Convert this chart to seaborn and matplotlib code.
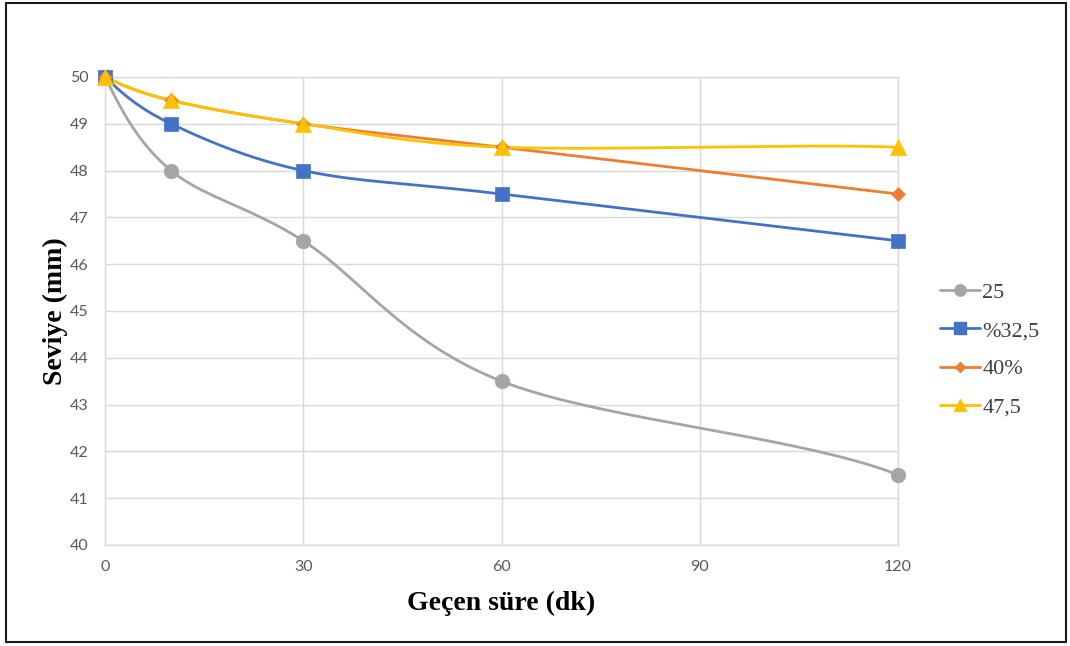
import numpy as np
import pandas as pd
import matplotlib
matplotlib.use("Agg")
import matplotlib.pyplot as plt
import seaborn as sns
from matplotlib.lines import Line2D
from matplotlib.patches import Rectangle

# ---- data ----
time_min = [0, 10, 30, 60, 120]
s25 = [50, 48, 46.5, 43.5, 41.5]
s325 = [50, 49, 48, 47.5, 46.5]
s40 = [50, 49.5, 49, 48.5, 47.5]
s475 = [50, 49.5, 49, 48.5, 48.5]
series_names = ["25", "%32,5", "40%", "47,5"]
series_values = [s25, s325, s40, s475]
x_ticks = [0, 30, 60, 90, 120]
y_ticks = list(range(40, 51))

colors = ["#A5A5A5", "#4472C4", "#ED7D31", "#FFC000"]
markers = ["o", "s", "D", "^"]
msizes = [10.5, 10.5, 7, 11.5]


def smooth(xs, ys, n=40):
    """Excel-like bezier smoothing through the data points."""
    P = np.column_stack([xs, ys]).astype(float)
    m = len(P)
    segs = []
    for i in range(m - 1):
        p1, p2 = P[i], P[i + 1]
        p0 = P[i - 1] if i > 0 else None
        p3 = P[i + 2] if i + 2 < m else None
        c1 = p1 + (p2 - p0) / 6.0 if p0 is not None else None
        c2 = p2 - (p3 - p1) / 6.0 if p3 is not None else None
        if c1 is None and c2 is None:
            c1 = p1 + (p2 - p1) / 3.0
            c2 = p2 - (p2 - p1) / 3.0
        elif c1 is None:
            c1 = (p1 + c2) / 2.0
        elif c2 is None:
            c2 = p2 - (c1 - p1)
        t = np.linspace(0, 1, n)[:, None]
        b = ((1 - t) ** 3) * p1 + 3 * ((1 - t) ** 2) * t * c1 + 3 * (1 - t) * t ** 2 * c2 + t ** 3 * p2
        segs.append(b if i == 0 else b[1:])
    out = np.vstack(segs)
    return out[:, 0], out[:, 1]


sns.set_style("white")
fig = plt.figure(figsize=(10.7, 6.46), dpi=100)
ax = fig.add_axes([105 / 1070, 1 - 545 / 646, (898 - 105) / 1070, (545 - 77) / 646])

rows = []
for name, vals in zip(series_names, series_values):
    for t, v in zip(time_min, vals):
        rows.append({"t": t, "v": v, "s": name})
df = pd.DataFrame(rows)

handles = []
for name, vals, c, m, ms in zip(series_names, series_values, colors, markers, msizes):
    sx, sy = smooth(time_min, vals)
    sdf = pd.DataFrame({"t": sx, "v": sy})
    sns.lineplot(data=sdf, x="t", y="v", ax=ax, color=c, lw=2.0, sort=False,
                 estimator=None, zorder=3)
    sub = df[df["s"] == name]
    sns.scatterplot(data=sub, x="t", y="v", ax=ax, color=c, marker=m,
                    s=ms ** 2, edgecolor=c, linewidth=0.5, zorder=4, legend=False,
                    clip_on=False)
    handles.append(Line2D([0], [0], color=c, lw=2.0, marker=m, markersize=ms * 0.78,
                          markeredgecolor=c, label=name))

ax.set_xlim(0, 120)
ax.set_ylim(40, 50)
ax.set_xticks(x_ticks)
ax.set_yticks(y_ticks)
ax.grid(True, color="#D9D9D9", lw=1.0)
ax.set_axisbelow(True)
for sp in ax.spines.values():
    sp.set_color("#D9D9D9")
    sp.set_linewidth(1.0)
ax.tick_params(axis="both", length=0, labelsize=11.5, colors="#595959")
ax.tick_params(axis="x", pad=11)
ax.tick_params(axis="y", pad=12)
for lab in ax.get_xticklabels() + ax.get_yticklabels():
    lab.set_family("Lato")

ax.set_xlabel("Geçen süre (dk)", family="Liberation Serif", fontweight="bold",
              fontsize=20, color="black", labelpad=12)
ax.set_ylabel("Seviye (mm)", family="Liberation Serif", fontweight="bold",
              fontsize=20, color="black", labelpad=1)

leg = fig.legend(handles=handles, loc="center left", bbox_to_anchor=(940 / 1070, 1 - 350 / 646),
                 frameon=False, prop={"family": "Liberation Serif", "size": 16},
                 handlelength=1.8, handletextpad=0.1, labelspacing=0.8,
                 borderpad=0, borderaxespad=0)
for t in leg.get_texts():
    t.set_color("#404040")

fig.patches.append(Rectangle((6 / 1070, 4 / 646), 1060 / 1070, 639 / 646,
                             transform=fig.transFigure, fill=False,
                             edgecolor="#1a1a1a", lw=1.5, zorder=10))

fig.savefig("out.png", dpi=100)
